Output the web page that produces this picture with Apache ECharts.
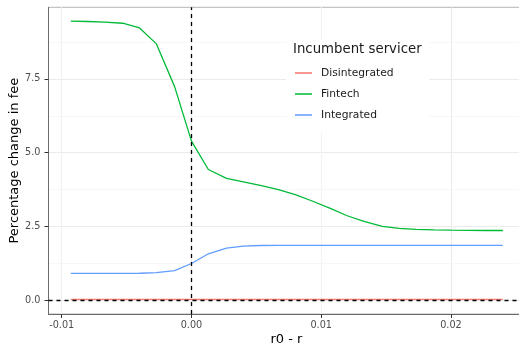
<!DOCTYPE html>
<html><head><meta charset="utf-8">
<script src="https://cdn.jsdelivr.net/npm/echarts@6/dist/echarts.min.js"></script>
<style>html,body{margin:0;padding:0;background:#fff}#c{width:519px;height:347px}</style>
</head><body><div id="c"></div>
<script>
const xValues = [-0.0093,-0.0080,-0.0067,-0.0053,-0.0040,-0.0027,-0.0013,0.0000,0.0013,0.0027,0.0040,0.0053,0.0067,0.0080,0.0093,0.0107,0.0120,0.0133,0.0147,0.0160,0.0173,0.0187,0.0200,0.0213,0.0227,0.0240];
const disintegrated = [0.02,0.02,0.02,0.02,0.02,0.02,0.02,0.02,0.02,0.02,0.02,0.02,0.02,0.02,0.02,0.02,0.02,0.02,0.02,0.02,0.02,0.02,0.02,0.02,0.02,0.02];
const fintech = [9.46,9.45,9.43,9.39,9.23,8.69,7.24,5.39,4.43,4.13,4.01,3.89,3.75,3.58,3.36,3.11,2.86,2.67,2.50,2.43,2.40,2.38,2.37,2.365,2.36,2.36];
const integrated = [0.905,0.905,0.905,0.905,0.91,0.93,1.0,1.24,1.57,1.76,1.83,1.85,1.855,1.855,1.855,1.855,1.855,1.855,1.855,1.855,1.855,1.855,1.855,1.855,1.855,1.855];
const seriesNames = ['Disintegrated','Fintech','Integrated'];
const xTicks = [-0.01, 0, 0.01, 0.02];
const xTickLabels = ['-0.01','0.00','0.01','0.02'];
const yTicks = [0, 2.5, 5, 7.5];
const yTickLabels = ['0.0','2.5','5.0','7.5'];
const xMinor = [-0.005, 0.005, 0.015, 0.025];
const yMinor = [1.25, 3.75, 6.25, 8.75];

const colors = ['#F8766D','#00BA38','#619CFF'];
const FONT = 'DejaVu Sans';
const pair = (ys) => xValues.map((x,i)=>[x, ys[i]]);

const chart = echarts.init(document.getElementById('c'), null, {renderer:'canvas'});
const lineSeries = [disintegrated, fintech, integrated].map((d,i)=>({
  name: seriesNames[i], type:'line', data: pair(d), symbol:'none', z: 3,
  lineStyle:{color:colors[i], width:1.3}, itemStyle:{color:colors[i]}, animation:false
}));

chart.setOption({
  animation:false,
  grid:{left:48.5, top:7.3, right:-5.4, bottom:33, outerBoundsMode:'none', containLabel:false,
    show:true, borderColor:'#b5b5b5', borderWidth:1, backgroundColor:'transparent'},
  title:{text:'Incumbent servicer', left:293, top:43.5, padding:0, z:6,
    textStyle:{fontFamily:FONT, fontSize:13.3, fontWeight:'normal', color:'#1a1a1a'}},
  legend:{orient:'vertical', left:295, top:66.5, padding:0, itemWidth:17, itemHeight:1.8, itemGap:8, z:6,
    icon:'rect',
    data: seriesNames.map((n,i)=>({name:n, icon:'rect', itemStyle:{color:colors[i], opacity:0.85}})),
    textStyle:{fontFamily:FONT, fontSize:10.7, color:'#1a1a1a', padding:[0,0,0,4], lineHeight:13}},
  graphic:[{type:'rect', z:1, shape:{x:286, y:40, width:143, height:92}, style:{fill:'#ffffff'}}],
  xAxis:{type:'value', min:-0.01102, max:0.02566,
    name:'r0 - r', nameLocation:'middle', nameGap:19.5, nameMoveOverlap:false,
    nameTextStyle:{fontFamily:FONT, fontSize:13, color:'#000'},
    axisLine:{show:true, onZero:false, lineStyle:{color:'#6b6b6b', width:1}},
    axisTick:{show:true, length:4, customValues:xTicks, lineStyle:{color:'#333', width:1}},
    axisLabel:{customValues:xTicks, formatter:(v)=>xTickLabels[xTicks.findIndex(t=>Math.abs(t-v)<1e-9)] ?? '', fontFamily:FONT, fontSize:9.7, color:'#4d4d4d', margin:6},
    splitLine:{show:true, lineStyle:{color:'#ebebeb', width:1.1}}},
  yAxis:{type:'value', min:-0.473, max:9.931,
    name:'Percentage change in fee', nameLocation:'middle', nameGap:27, nameRotate:90, nameMoveOverlap:false,
    nameTextStyle:{fontFamily:FONT, fontSize:13, color:'#000'},
    axisLine:{show:true, onZero:false, lineStyle:{color:'#6b6b6b', width:1}},
    axisTick:{show:true, length:4, customValues:yTicks, lineStyle:{color:'#333', width:1}},
    axisLabel:{customValues:yTicks, formatter:(v)=>yTickLabels[yTicks.findIndex(t=>Math.abs(t-v)<1e-9)] ?? '', fontFamily:FONT, fontSize:9.7, color:'#4d4d4d', margin:8},
    splitLine:{show:true, lineStyle:{color:'#ebebeb', width:1.1}}},
  series:[
    {type:'line', data:[], z:0, silent:true, markLine:{silent:true, symbol:'none', label:{show:false}, z:0,
      lineStyle:{color:'#f3f3f3', width:0.7, type:'solid'},
      data:[...xMinor.map(v=>({xAxis:v})), ...yMinor.map(v=>({yAxis:v}))]}},
    ...lineSeries,
    {type:'line', data:[], z:5, silent:true, markLine:{silent:true, symbol:'none', label:{show:false}, z:5,
      lineStyle:{color:'#000', width:1.3, type:[4,4]},
      data:[{xAxis:0},{yAxis:0}]}}
  ]
});
</script></body></html>
